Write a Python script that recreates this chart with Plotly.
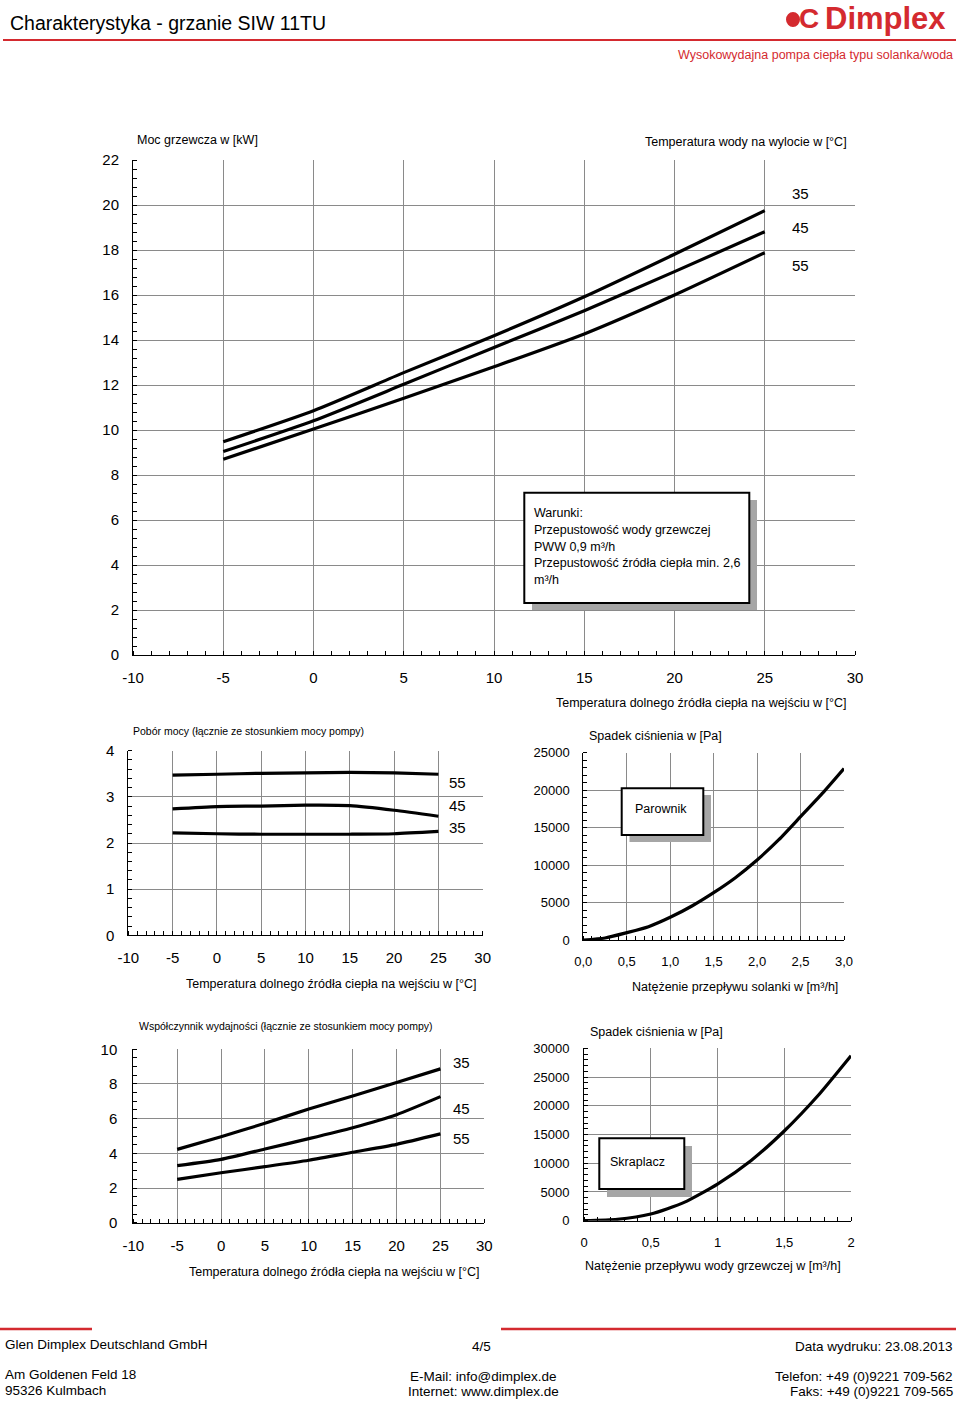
import plotly.graph_objects as go

# ---------------- data ----------------
temp_src = [-5, 0, 5, 10, 15, 20, 25]
heat_35 = [9.48, 10.86, 12.55, 14.19, 15.92, 17.81, 19.75]
heat_45 = [9.04, 10.41, 12.03, 13.67, 15.30, 17.04, 18.81]
heat_55 = [8.70, 10.04, 11.41, 12.81, 14.27, 16.00, 17.88]

power_35 = [2.22, 2.20, 2.19, 2.19, 2.19, 2.20, 2.25]
power_45 = [2.74, 2.79, 2.80, 2.82, 2.81, 2.71, 2.58]
power_55 = [3.47, 3.49, 3.51, 3.52, 3.53, 3.52, 3.49]

cop_35 = [4.23, 4.96, 5.73, 6.56, 7.31, 8.08, 8.87]
cop_45 = [3.29, 3.65, 4.25, 4.85, 5.48, 6.23, 7.27]
cop_55 = [2.50, 2.88, 3.23, 3.60, 4.06, 4.52, 5.12]

brine_flow = [0, 0.25, 0.5, 0.75, 1.0, 1.25, 1.5, 1.75, 2.0, 2.25, 2.5, 2.75, 3.0]
evap_dp = [0, 270, 980, 1780, 3030, 4540, 6320, 8320, 10680, 13390, 16460, 19570, 22900]

water_flow = [0, 0.25, 0.5, 0.75, 1.0, 1.25, 1.5, 1.75, 2.0]
cond_dp = [0, 230, 1160, 3190, 6380, 10440, 15610, 21700, 28720]

temp_ticks = [-10, -5, 0, 5, 10, 15, 20, 25, 30]
temp_ticktext = ["-10", "-5", "0", "5", "10", "15", "20", "25", "30"]
heat_ticks = [0, 2, 4, 6, 8, 10, 12, 14, 16, 18, 20, 22]
power_ticks = [0, 1, 2, 3, 4]
cop_ticks = [0, 2, 4, 6, 8, 10]
brine_ticks = [0, 0.5, 1.0, 1.5, 2.0, 2.5, 3.0]
brine_ticktext = ["0,0", "0,5", "1,0", "1,5", "2,0", "2,5", "3,0"]
water_ticks = [0, 0.5, 1, 1.5, 2]
water_ticktext = ["0", "0,5", "1", "1,5", "2"]
evap_ticks = [0, 5000, 10000, 15000, 20000, 25000]
cond_ticks = [0, 5000, 10000, 15000, 20000, 25000, 30000]

FONT = "Liberation Sans, Arial, sans-serif"
W, H = 960, 1401
RED = "#d42a2f"
GRID = "#8a8a8a"


def X(px):
    return px / W


def Y(py):
    return 1 - py / H


fig = go.Figure()

line_style = dict(color="black", width=3.2, shape="spline", smoothing=0.6)

for ys in (heat_35, heat_45, heat_55):
    fig.add_trace(go.Scatter(x=temp_src, y=ys, mode="lines", line=line_style,
                             xaxis="x", yaxis="y", showlegend=False, hoverinfo="skip"))
for ys in (power_55, power_45, power_35):
    fig.add_trace(go.Scatter(x=temp_src, y=ys, mode="lines", line=line_style,
                             xaxis="x2", yaxis="y2", showlegend=False, hoverinfo="skip"))
fig.add_trace(go.Scatter(x=brine_flow, y=evap_dp, mode="lines", line=line_style,
                         xaxis="x3", yaxis="y3", showlegend=False, hoverinfo="skip"))
for ys in (cop_35, cop_45, cop_55):
    fig.add_trace(go.Scatter(x=temp_src, y=ys, mode="lines", line=line_style,
                             xaxis="x4", yaxis="y4", showlegend=False, hoverinfo="skip"))
fig.add_trace(go.Scatter(x=water_flow, y=cond_dp, mode="lines", line=line_style,
                         xaxis="x5", yaxis="y5", showlegend=False, hoverinfo="skip"))


def xax(dom, rng, ticks, ticktext, minor, size, anchor, standoff):
    return dict(domain=[X(dom[0]), X(dom[1])], range=rng, tickvals=ticks,
                ticktext=ticktext,
                showgrid=True, gridcolor=GRID, gridwidth=1, zeroline=False,
                showline=True, linecolor="black", linewidth=1, ticks="",
                tickfont=dict(family=FONT, size=size, color="black"),
                anchor=anchor, fixedrange=True, ticklabelstandoff=standoff,
                automargin=False,
                minor=dict(dtick=minor, ticks="inside", ticklen=4, tickcolor="black",
                           tickwidth=1, showgrid=False, tick0=rng[0]))


def yax(dom, rng, ticks, minor, size, anchor, standoff):
    return dict(domain=[Y(dom[1]), Y(dom[0])], range=rng, tickvals=ticks,
                ticktext=[str(t) for t in ticks],
                showgrid=True, gridcolor=GRID, gridwidth=1, zeroline=False,
                showline=True, linecolor="black", linewidth=1, ticks="",
                tickfont=dict(family=FONT, size=size, color="black"),
                anchor=anchor, fixedrange=True, ticklabelstandoff=standoff,
                automargin=False,
                minor=dict(dtick=minor, ticks="inside", ticklen=4, tickcolor="black",
                           tickwidth=1, showgrid=False, tick0=rng[0]))


layout_axes = dict(
    xaxis=xax((133, 855), [-10, 30], temp_ticks, temp_ticktext, 1, 15, "y", 9),
    yaxis=yax((160, 655), [0, 22], heat_ticks, 0.4, 15, "x", 10),
    xaxis2=xax((128.3, 482.7), [-10, 30], temp_ticks, temp_ticktext, 1, 15, "y2", 9),
    yaxis2=yax((750.7, 935.3), [0, 4], power_ticks, 0.2, 15, "x2", 10),
    xaxis3=xax((583.3, 844), [0, 3], brine_ticks, brine_ticktext, 0.1, 13, "y3", 9),
    yaxis3=yax((752.7, 940), [0, 25000], evap_ticks, 1000, 13, "x3", 10),
    xaxis4=xax((133.3, 484.3), [-10, 30], temp_ticks, temp_ticktext, 1, 15, "y4", 9),
    yaxis4=yax((1049.3, 1222.7), [0, 10], cop_ticks, 0.5, 15, "x4", 12),
    xaxis5=xax((584, 851), [0, 2], water_ticks, water_ticktext, 0.1, 13, "y5", 10),
    yaxis5=yax((1048.3, 1220.7), [0, 30000], cond_ticks, 1000, 13, "x5", 11),
)

ann = []


def text(px, py, s, size=13, xanchor="left", color="black", bold=False, ref=None):
    if bold:
        s = "<b>" + s + "</b>"
    a = dict(text=s, showarrow=False, xanchor=xanchor, yanchor="middle",
             font=dict(family=FONT, size=size, color=color))
    if ref is None:
        a.update(x=X(px), y=Y(py), xref="paper", yref="paper")
    else:
        a.update(x=px, y=py, xref=ref[0], yref=ref[1])
    ann.append(a)


# header
text(8, 23, "Charakterystyka - grzanie SIW 11TU", size=19.5)
text(955, 55, "Wysokowydajna pompa ciepła typu solanka/woda", size=12.5, xanchor="right", color=RED)
text(948, 18.5, "Dimplex", size=31, xanchor="right", color=RED, bold=True)

# top chart texts
text(135, 140, "Moc grzewcza w [kW]", size=12.5)
text(849, 142, "Temperatura wody na wylocie w [°C]", size=12.5, xanchor="right")
text(849, 703, "Temperatura dolnego źródła ciepła na wejściu w [°C]", size=12.5, xanchor="right")
text(27.0, 20.53, "35", size=15, xanchor="center", ref=("x", "y"))
text(27.0, 18.98, "45", size=15, xanchor="center", ref=("x", "y"))
text(27.0, 17.33, "55", size=15, xanchor="center", ref=("x", "y"))
box_lines = ["Warunki:", "Przepustowość wody grzewczej", "PWW 0,9 m³/h",
             "Przepustowość źródła ciepła min. 2,6", "m³/h"]
for i, s in enumerate(box_lines):
    text(531.5, 513.5 + i * 16.6, s, size=12.5)

# middle-left
text(131, 731, "Pobór mocy (łącznie ze stosunkiem mocy pompy)", size=10.5)
text(27.1, 3.31, "55", size=15, xanchor="center", ref=("x2", "y2"))
text(27.1, 2.81, "45", size=15, xanchor="center", ref=("x2", "y2"))
text(27.1, 2.33, "35", size=15, xanchor="center", ref=("x2", "y2"))
text(331, 984, "Temperatura dolnego źródła ciepła na wejściu w [°C]", size=12.5, xanchor="center")

# middle-right
text(587, 736, "Spadek ciśnienia w [Pa]", size=12.5)
text(633, 809, "Parownik", size=12.5)
text(735, 987, "Natężenie przepływu solanki w [m³/h]", size=12.5, xanchor="center")

# bottom-left
text(137, 1026, "Współczynnik wydajności (łącznie ze stosunkiem mocy pompy)", size=10.5)
text(27.4, 9.23, "35", size=15, xanchor="center", ref=("x4", "y4"))
text(27.4, 6.56, "45", size=15, xanchor="center", ref=("x4", "y4"))
text(27.4, 4.83, "55", size=15, xanchor="center", ref=("x4", "y4"))
text(334, 1272, "Temperatura dolnego źródła ciepła na wejściu w [°C]", size=12.5, xanchor="center")

# bottom-right
text(588, 1032, "Spadek ciśnienia w [Pa]", size=12.5)
text(608, 1162, "Skraplacz", size=12.5)
text(713, 1266, "Natężenie przepływu wody grzewczej w [m³/h]", size=12.5, xanchor="center")

# footer
text(3, 1344, "Glen Dimplex Deutschland GmbH", size=13.5)
text(481, 1346, "4/5", size=13.5, xanchor="center")
text(955, 1346, "Data wydruku: 23.08.2013", size=13.5, xanchor="right")
text(3, 1374, "Am Goldenen Feld 18", size=13.5)
text(3, 1390, "95326 Kulmbach", size=13.5)
text(483, 1376, "E-Mail: info@dimplex.de", size=13.5, xanchor="center")
text(483, 1391, "Internet: www.dimplex.de", size=13.5, xanchor="center")
text(955, 1376, "Telefon: +49 (0)9221 709-562", size=13.5, xanchor="right")
text(955, 1391, "Faks: +49 (0)9221 709-565", size=13.5, xanchor="right")

shapes = []


def rect(x0, y0, x1, y1, fill, line_color=None, lw=0, layer="above"):
    shapes.append(dict(type="rect", xref="paper", yref="paper",
                       x0=X(x0), x1=X(x1), y0=Y(y1), y1=Y(y0),
                       fillcolor=fill, layer=layer,
                       line=dict(color=line_color or fill, width=lw)))


def hline(x0, x1, y, color, width):
    shapes.append(dict(type="line", xref="paper", yref="paper",
                       x0=X(x0), x1=X(x1), y0=Y(y), y1=Y(y),
                       line=dict(color=color, width=width)))


# header line, footer lines
hline(3, 956, 40, RED, 2)
hline(0, 92, 1329, RED, 2.5)
hline(501, 956, 1329, RED, 2.5)

# logo symbol
shapes.append(dict(type="circle", xref="paper", yref="paper",
                   x0=X(786), x1=X(800), y0=Y(27), y1=Y(12), fillcolor=RED,
                   line=dict(color=RED, width=0)))
text(797, 18.5, "C", size=28, color=RED, bold=True)

# condition boxes with shadows
rect(532, 500, 757, 610, "#a6a6a6")
rect(524.3, 492.7, 749.3, 603, "white", "black", 2)
rect(629.5, 795, 711, 842, "#a6a6a6")
rect(621.7, 788.3, 703.3, 835, "white", "black", 2)
rect(607, 1146, 692, 1197, "#a6a6a6")
rect(599.3, 1138.3, 684.3, 1189, "white", "black", 2)

fig.update_layout(
    width=W, height=H,
    margin=dict(l=0, r=0, t=0, b=0, pad=0, autoexpand=False),
    paper_bgcolor="white", plot_bgcolor="white",
    showlegend=False, annotations=ann, shapes=shapes,
    font=dict(family=FONT, color="black"),
    **layout_axes,
)

fig.write_html("out.html")
